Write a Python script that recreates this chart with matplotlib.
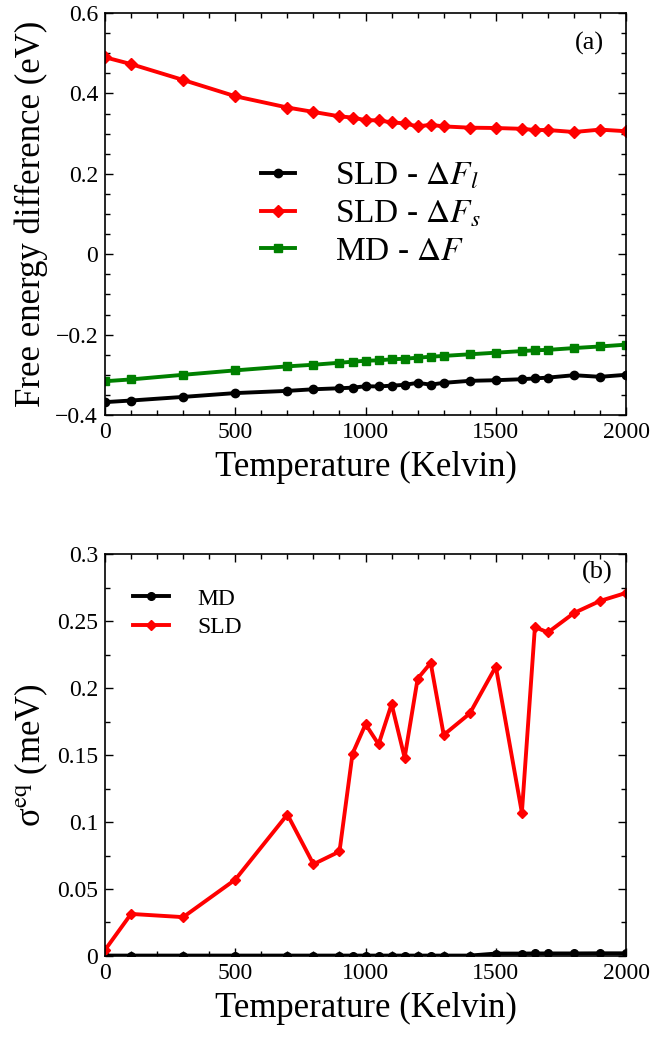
import numpy as np
import matplotlib
matplotlib.use('Agg')
import matplotlib.pyplot as plt
from matplotlib.ticker import MultipleLocator, FuncFormatter

# temperatures (Kelvin)
temps = [0, 100, 300, 500, 700, 800, 900, 950, 1000, 1050, 1100, 1150, 1200,
         1250, 1300, 1400, 1500, 1600, 1650, 1700, 1800, 1900, 2000]

# panel (a): free energy differences (eV)
sld_dfl = [-0.368, -0.364, -0.355, -0.3455, -0.340, -0.336, -0.3335, -0.332,
           -0.3285, -0.329, -0.327, -0.325, -0.320, -0.3245, -0.320, -0.315,
           -0.3135, -0.311, -0.309, -0.307, -0.301, -0.305, -0.300]
sld_dfs = [0.490, 0.473, 0.4335, 0.393, 0.365, 0.354, 0.343, 0.340, 0.3335,
           0.333, 0.328, 0.3255, 0.318, 0.322, 0.318, 0.3148, 0.314, 0.312,
           0.309, 0.309, 0.304, 0.310, 0.306]
md_df = [-0.316, -0.3115, -0.300, -0.289, -0.279, -0.275, -0.270, -0.2675,
         -0.265, -0.264, -0.2615, -0.260, -0.2575, -0.255, -0.253, -0.249,
         -0.245, -0.241, -0.239, -0.238, -0.2335, -0.2295, -0.225]

# panel (b): sigma_eq (meV)
md_sig = [0.0003, 0.0003, 0.0003, 0.0003, 0.0003, 0.0003, 0.0003, 0.0003,
          0.0003, 0.0003, 0.0003, 0.0003, 0.0003, 0.0003, 0.0003, 0.0003,
          0.0018, 0.0018, 0.0019, 0.0019, 0.0019, 0.0020, 0.0020]
sld_sig = [0.0045, 0.0314, 0.029, 0.057, 0.1056, 0.0685, 0.078, 0.151, 0.173,
           0.158, 0.188, 0.148, 0.207, 0.2187, 0.165, 0.181, 0.216, 0.107,
           0.2455, 0.2415, 0.256, 0.265, 0.271]

plt.rcParams['font.family'] = ['Liberation Serif', 'DejaVu Serif']
plt.rcParams['mathtext.fontset'] = 'stix'


def fmt(v, pos):
    s = '%g' % round(v, 4)
    return s.replace('-', '\u2212')


def style_axis(ax, xmin, xmaj, ymaj, ymin):
    ax.xaxis.set_major_locator(MultipleLocator(xmaj))
    ax.xaxis.set_minor_locator(MultipleLocator(xmin))
    ax.yaxis.set_major_locator(MultipleLocator(ymaj))
    ax.yaxis.set_minor_locator(MultipleLocator(ymin))
    ax.yaxis.set_major_formatter(FuncFormatter(fmt))
    ax.tick_params(which='both', direction='in', top=True, right=True,
                   labelsize=17, width=1.0)
    ax.tick_params(which='major', length=6, pad=5)
    ax.tick_params(which='minor', length=3.5)
    for sp in ax.spines.values():
        sp.set_linewidth(1.2)


fig = plt.figure(figsize=(6.53, 10.44), dpi=100)
ax1 = fig.add_axes([0.1608, 0.6025, 0.798, 0.385])
ax2 = fig.add_axes([0.1608, 0.0843, 0.798, 0.385])

lw = 2.8
ax1.plot(temps, sld_dfl, '-o', color='black', lw=lw, ms=6, label=r'SLD - $\Delta F_l$')
ax1.plot(temps, sld_dfs, '-D', color='#ff0000', lw=lw, ms=6, label=r'SLD - $\Delta F_s$')
ax1.plot(temps, md_df, '-s', color='#008000', lw=lw, ms=6, label=r'MD - $\Delta F$')
ax1.set_xlim(0, 2000)
ax1.set_ylim(-0.4, 0.6)
style_axis(ax1, 100, 500, 0.2, 0.05)
ax1.set_xlabel('Temperature (Kelvin)', fontsize=25, labelpad=6)
ax1.set_ylabel('Free energy difference (eV)', fontsize=25, labelpad=5)
ax1.text(0.93, 0.925, '(a)', transform=ax1.transAxes, fontsize=19, ha='center', va='center')
ax1.legend(loc='center left', bbox_to_anchor=(0.30, 0.5), frameon=False, fontsize=24,
           numpoints=1, handlelength=1.0, handletextpad=1.2, labelspacing=0.22,
           borderpad=0, borderaxespad=0)

ax2.plot(temps, md_sig, '-o', color='black', lw=lw, ms=5.5, label='MD')
ax2.plot(temps, sld_sig, '-D', color='#ff0000', lw=lw, ms=5.5, label='SLD')
ax2.set_xlim(0, 2000)
ax2.set_ylim(0, 0.3)
style_axis(ax2, 100, 500, 0.05, 0.025)
ax2.set_xlabel('Temperature (Kelvin)', fontsize=25, labelpad=6)
ax2.set_ylabel('\u03c3$^{\\rm eq}$ (meV)', fontsize=25, labelpad=5)
ax2.text(0.945, 0.955, '(b)', transform=ax2.transAxes, fontsize=19, ha='center', va='center')
ax2.legend(loc='center left', bbox_to_anchor=(0.054, 0.853), frameon=False, fontsize=17,
           numpoints=1, handlelength=1.5, handletextpad=1.2, labelspacing=0.3,
           borderpad=0, borderaxespad=0)

fig.savefig('out.png', dpi=100)
